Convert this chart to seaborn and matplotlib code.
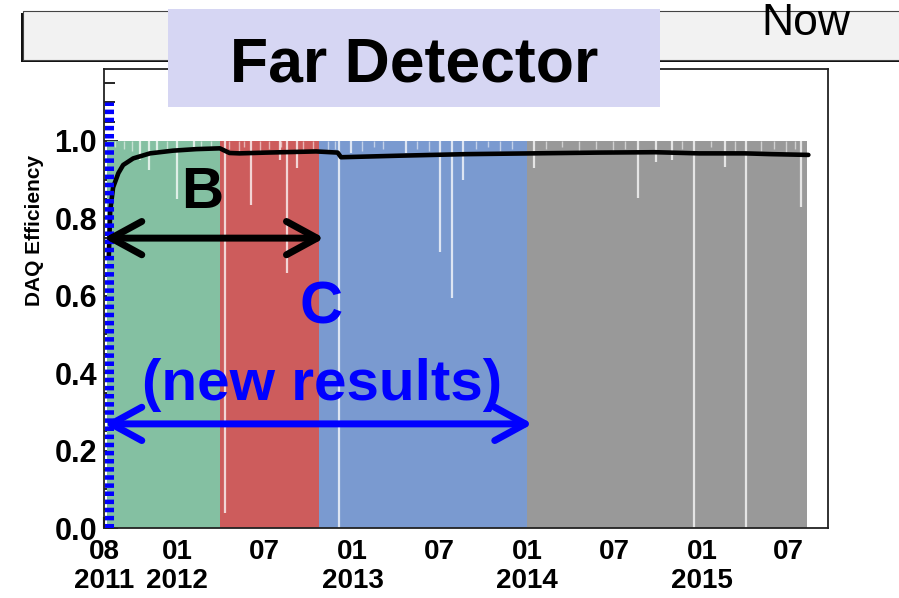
import numpy as np
import pandas as pd
import matplotlib
matplotlib.use("Agg")
import matplotlib.pyplot as plt
import matplotlib.dates as mdates
from matplotlib.patches import Rectangle
from matplotlib.ticker import FixedLocator, FixedFormatter, MultipleLocator
import seaborn as sns

# ---------------- data ----------------
period_starts = ["2011-08-08", "2012-03-31", "2012-10-22", "2014-01-01"]
period_ends = ["2012-03-31", "2012-10-22", "2014-01-01", "2015-08-09"]
period_colors = ["#84c0a2", "#cd5c5c", "#7a9ad0", "#999999"]
nominal_eff = 1.0

# large daily dips (white gaps)
dip_dates = ["2011-10-15", "2011-11-03", "2011-11-20", "2012-01-01", "2012-02-05",
             "2012-04-10", "2012-06-04", "2012-08-02", "2012-08-18", "2012-09-08",
             "2012-12-03", "2012-12-28", "2013-04-22", "2013-07-02", "2013-07-27",
             "2013-08-19", "2014-01-16", "2014-08-21", "2014-09-26", "2014-10-31",
             "2014-12-15", "2015-02-18", "2015-04-03", "2015-07-26"]
dip_values = [0.95, 0.925, 0.97, 0.85, 0.975,
              0.04, 0.835, 0.95, 0.66, 0.93,
              0.0, 0.97, 0.97, 0.713, 0.594,
              0.90, 0.93, 0.853, 0.946, 0.95,
              0.0, 0.933, 0.0, 0.83]

# small dips along the top edge
small_dates = ["2011-08-25", "2011-09-12", "2011-09-28", "2011-12-10", "2012-02-20", "2012-03-12",
               "2012-04-18", "2012-05-08", "2012-05-20", "2012-06-22", "2012-07-10", "2012-08-05",
               "2012-09-20", "2012-10-10", "2012-11-10", "2012-11-25", "2013-01-20", "2013-02-15",
               "2013-03-05", "2013-05-15", "2013-06-10", "2013-09-15", "2013-10-10", "2013-11-05",
               "2013-12-01", "2014-02-10", "2014-03-15", "2014-04-20", "2014-05-25", "2014-06-30",
               "2014-07-25", "2014-11-20", "2015-01-20", "2015-03-10", "2015-05-05", "2015-06-01",
               "2015-06-25", "2015-07-15"]
small_values = [0.985, 0.98, 0.975, 0.98, 0.985, 0.98,
                0.98, 0.975, 0.985, 0.97, 0.98, 0.985,
                0.975, 0.98, 0.975, 0.98, 0.975, 0.985,
                0.98, 0.98, 0.975, 0.98, 0.985, 0.975,
                0.98, 0.98, 0.985, 0.975, 0.98, 0.97,
                0.98, 0.98, 0.985, 0.97, 0.975, 0.98,
                0.97, 0.98]

# cumulative efficiency (black curve)
cum_dates = ["2011-08-11", "2011-08-14", "2011-08-20", "2011-08-31", "2011-09-10", "2011-10-01",
             "2011-11-05", "2011-12-23", "2012-02-10", "2012-03-30", "2012-04-19", "2012-05-10",
             "2012-07-05", "2012-10-17", "2012-12-01", "2012-12-08", "2013-04-09", "2013-08-26",
             "2014-01-11", "2014-05-30", "2014-09-25", "2014-12-26", "2015-04-01", "2015-05-26",
             "2015-08-11"]
cum_values = [0.70, 0.82, 0.88, 0.917, 0.938, 0.955,
              0.968, 0.975, 0.979, 0.981, 0.969, 0.968,
              0.970, 0.973, 0.970, 0.958, 0.962, 0.966,
              0.968, 0.970, 0.971, 0.968, 0.968, 0.966,
              0.964]

marker_date = "2011-08-11"
marker_top = 1.10

major_tick_dates = ["2012-01-01", "2013-01-01", "2014-01-01", "2015-01-01"]
major_tick_labels = ["01\n2012", "01\n2013", "01\n2014", "01\n2015"]
minor_tick_dates = ["2011-08-01", "2011-10-01", "2012-04-01", "2012-07-01", "2012-10-01",
                    "2013-04-01", "2013-07-01", "2013-10-01", "2014-04-01", "2014-07-01",
                    "2014-10-01", "2015-04-01", "2015-07-01"]
minor_tick_labels = ["08\n2011", "", "", "07", "", "", "07", "", "", "07", "", "", "07"]

arrow_B = ("2011-08-01", "2012-11-03", 0.749)
arrow_C = ("2011-08-01", "2014-01-12", 0.269)

# ---------------- plot ----------------
sns.set_theme(style="ticks")
plt.rcParams["font.family"] = ["Liberation Sans", "DejaVu Sans"]
plt.rcParams["font.weight"] = "bold"

W, H = 899, 598
fig = plt.figure(figsize=(W / 100, H / 100), dpi=100)
fig.patch.set_facecolor("white")


def fx(px):
    return px / W


def fy(py):
    return 1 - py / H


ax = fig.add_axes([fx(104), fy(528), fx(828) - fx(104), fy(69) - fy(528)])
ax.set_facecolor("white")

ts = pd.to_datetime
d2n = lambda s: mdates.date2num(ts(s))

for s, e, c in zip(period_starts, period_ends, period_colors):
    ax.fill_between([ts(s), ts(e)], 0, nominal_eff, color=c, lw=0, zorder=1)

ax.vlines(ts(small_dates), small_values, nominal_eff, colors="white", lw=1.0, alpha=0.55, zorder=2)
ax.vlines(ts(dip_dates), dip_values, nominal_eff, colors="white", lw=1.6, alpha=0.75, zorder=2)

sns.lineplot(x=ts(cum_dates), y=cum_values, color="black", lw=3.3, ax=ax, zorder=4)

ax.vlines(ts(marker_date), 0, marker_top, colors="#0000ff", lw=6.5,
          linestyles=(0, (0.5, 0.4)), zorder=5)

ax.set_xlim(ts("2011-08-01"), ts("2015-09-21"))
ax.set_ylim(0, 1.186)

ax.xaxis.set_major_locator(FixedLocator([d2n(d) for d in major_tick_dates]))
ax.xaxis.set_major_formatter(FixedFormatter(major_tick_labels))
ax.xaxis.set_minor_locator(FixedLocator([d2n(d) for d in minor_tick_dates]))
ax.xaxis.set_minor_formatter(FixedFormatter(minor_tick_labels))
ax.tick_params(axis="x", which="major", direction="in", length=16, width=1.5, pad=8,
               labelsize=20, color="black", labelcolor="black")
ax.tick_params(axis="x", which="minor", direction="in", length=8, width=1.5, pad=8,
               labelsize=20, color="black", labelcolor="black")
for lbl in ax.get_xticklabels(which="both"):
    lbl.set_fontweight("bold")
    lbl.set_linespacing(1.15)

ax.yaxis.set_major_locator(MultipleLocator(0.2))
ax.yaxis.set_minor_locator(MultipleLocator(0.05))
ax.yaxis.set_major_formatter(matplotlib.ticker.FormatStrFormatter("%.1f"))
ax.tick_params(axis="y", which="major", direction="in", length=10, width=1.2, pad=5,
               labelsize=22, color="black", labelcolor="black")
ax.tick_params(axis="y", which="minor", direction="in", length=8, width=1.2, color="black")
for lbl in ax.get_yticklabels():
    lbl.set_fontweight("bold")

ax.set_xlabel("")
ax.set_ylabel("DAQ Efficiency", fontsize=15, fontweight="bold", color="black")
ax.yaxis.set_label_coords((44 - 104) / 724, (528 - 230) / 459)

for sp in ax.spines.values():
    sp.set_visible(True)
    sp.set_color("#222222")
    sp.set_linewidth(1.3)

# arrows
ax.annotate("", xy=(d2n(arrow_B[1]), arrow_B[2]), xytext=(d2n(arrow_B[0]), arrow_B[2]),
            arrowprops=dict(arrowstyle="<->,head_length=1.1,head_width=0.6", color="black",
                            lw=5, shrinkA=0, shrinkB=0, mutation_scale=20,
                            capstyle="round", joinstyle="round"),
            zorder=6, annotation_clip=False)
ax.annotate("", xy=(d2n(arrow_C[1]), arrow_C[2]), xytext=(d2n(arrow_C[0]), arrow_C[2]),
            arrowprops=dict(arrowstyle="<->,head_length=1.1,head_width=0.6", color="#0000ff",
                            lw=5, shrinkA=0, shrinkB=0, mutation_scale=20,
                            capstyle="round", joinstyle="round"),
            zorder=6, annotation_clip=False)

ax.text(d2n("2012-02-23"), 0.866, "B", fontsize=42, fontweight="bold", color="black",
        ha="center", va="center", zorder=7)
ax.text(d2n("2012-10-28"), 0.568, "C", fontsize=43, fontweight="bold", color="#0000ff",
        ha="center", va="center", zorder=7)
ax.text(d2n("2012-10-30"), 0.331, "(new results)", fontsize=42, fontweight="bold",
        color="#0000ff", ha="center", va="baseline", zorder=7)

# header box with shadow
fig.add_artist(Rectangle((fx(21), fy(62)), fx(899 + 20) - fx(21), fy(13) - fy(62),
                         transform=fig.transFigure, facecolor="#111111", edgecolor="none",
                         zorder=8))
fig.add_artist(Rectangle((fx(23), fy(60)), fx(899 + 20) - fx(23), fy(11) - fy(60),
                         transform=fig.transFigure, facecolor="#f2f2f2", edgecolor="#444444",
                         lw=0.8, zorder=9))
fig.text(fx(806), fy(35), "Now", fontsize=32, fontweight="normal", color="black",
         ha="center", va="baseline", zorder=10)

# title box
fig.add_artist(Rectangle((fx(168), fy(107)), fx(660) - fx(168), fy(9) - fy(107),
                         transform=fig.transFigure, facecolor="#d6d6f3", edgecolor="none",
                         zorder=11))
fig.text(fx(414), fy(82), "Far Detector", fontsize=45, fontweight="bold", color="black",
         ha="center", va="baseline", zorder=12)

fig.savefig("out.png", dpi=100)
